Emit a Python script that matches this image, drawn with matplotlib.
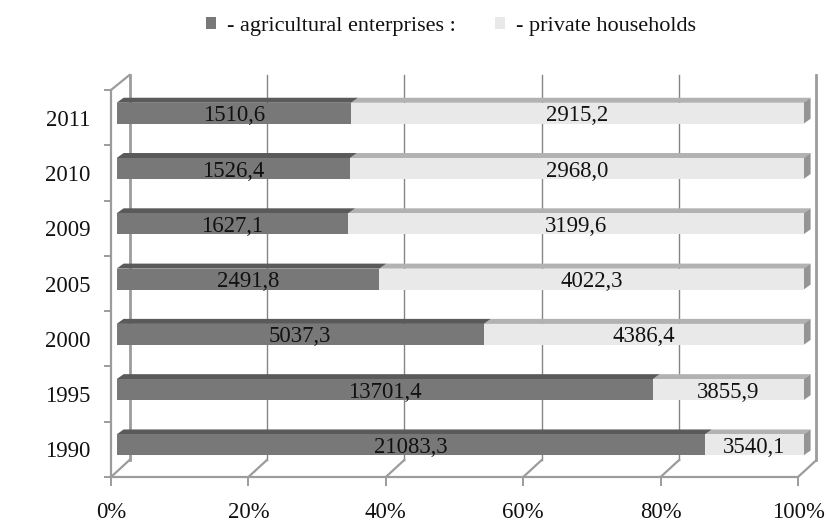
import matplotlib
matplotlib.use("Agg")
import matplotlib.pyplot as plt
from matplotlib.patches import Polygon, Patch
import numpy as np

years = ["1990", "1995", "2000", "2005", "2009", "2010", "2011"]
agricultural = [21083.3, 13701.4, 5037.3, 2491.8, 1627.1, 1526.4, 1510.6]
households = [3540.1, 3855.9, 4386.4, 4022.3, 3199.6, 2968.0, 2915.2]
series_names = ["- agricultural enterprises :", "- private households"]
pct_ticks = [0, 20, 40, 60, 80, 100]

FONT = "Liberation Serif"
W, H = 828, 522
fig = plt.figure(figsize=(W / 100, H / 100), dpi=100, facecolor="white")
# frame = front edge of the pseudo-3D floor and wall
L, R, B, T = 111, 798, 477, 90
ax = fig.add_axes([L / W, 1 - B / H, (R - L) / W, (B - T) / H])
ax.set_xlim(0, 100)
ax.set_ylim(-0.5, 6.5)
ax.patch.set_visible(False)

ux = (R - L) / 100          # pixels per x unit
uy = (B - T) / 7            # pixels per y unit
px = lambda p: p / ux
py = lambda p: p / uy

WALL = "#9c9c9c"
GRID = "#858585"
DARK, DARK_TOP = "#787878", "#5a5a5a"
LIGHT, LIGHT_TOP, LIGHT_SIDE = "#e9e9e9", "#b2b2b2", "#949494"

# back wall grid and floor diagonals
bx = px(18.5)
by0, by1 = py(17), py(15)
for t in pct_ticks:
    edge = t in (0, 100)
    col, lw = (WALL, 2.0) if edge else (GRID, 1.0)
    ax.plot([t + bx, t + bx], [-0.5 + by0, 6.5 + by1], color=col, lw=lw, clip_on=False, zorder=1)
    ax.plot([t, t + bx], [-0.5, -0.5 + by0], color=WALL, lw=1.6, clip_on=False, zorder=1)
ax.plot([0, bx], [6.5, 6.5 + by1], color=WALL, lw=1.6, clip_on=False, zorder=1)

# bars
values_a = np.array(agricultural)
values_h = np.array(households)
total = values_a + values_h
share_a = values_a / total * 100
share_h = values_h / total * 100
ypos = np.arange(len(years))
ox, oy = px(5.6), py(4.4)
dx, dy = px(7), py(5)
bar_h = 21 / uy

for y, a, h in zip(ypos, share_a, share_h):
    yc = y + oy
    top = yc + bar_h / 2
    ax.add_patch(Polygon([(ox, top), (ox + a, top), (ox + a + dx, top + dy), (ox + dx, top + dy)],
                         fc=DARK_TOP, ec="none", clip_on=False, zorder=3))
    ax.add_patch(Polygon([(ox + a, top), (ox + 100, top), (ox + 100 + dx, top + dy), (ox + a + dx, top + dy)],
                         fc=LIGHT_TOP, ec="none", clip_on=False, zorder=2.9))
    ax.add_patch(Polygon([(ox + 100, top), (ox + 100 + dx, top + dy),
                          (ox + 100 + dx, top + dy - bar_h), (ox + 100, top - bar_h)],
                         fc=LIGHT_SIDE, ec="none", clip_on=False, zorder=3))

ax.barh(ypos + oy, share_a, height=bar_h, left=ox, color=DARK, clip_on=False, zorder=3)
ax.barh(ypos + oy, share_h, height=bar_h, left=ox + share_a, color=LIGHT, clip_on=False, zorder=3)

fs = 16.4
for y, a, h, va, vh in zip(ypos, share_a, share_h, values_a, values_h):
    for cx, v in ((ox + a / 2, va), (ox + a + h / 2, vh)):
        ax.text(cx, y + oy, f"{v:.1f}".replace(".", ","), ha="center", va="center_baseline",
                family=FONT, fontsize=fs, color="#111111", zorder=5, clip_on=False)

# axes
for s in ("top", "right"):
    ax.spines[s].set_visible(False)
for s in ("left", "bottom"):
    ax.spines[s].set_color(WALL)
    ax.spines[s].set_linewidth(1.6)
ax.set_xticks(pct_ticks)
ax.set_xticklabels([f"{t}%" for t in pct_ticks], family=FONT, fontsize=fs, color="#111111")
ax.tick_params(axis="x", length=6.5, width=1.4, color=WALL, pad=11.5)
ax.set_yticks(ypos)
ax.set_yticklabels(years, family=FONT, fontsize=fs, color="#111111")
ax.tick_params(axis="y", which="major", length=0, pad=15)
ax.set_yticks(np.arange(-0.5, 7), minor=True)
ax.tick_params(axis="y", which="minor", length=5, width=1.4, color=WALL)

# legend
handles = [Patch(fc=DARK, ec="none", label=series_names[0]),
           Patch(fc=LIGHT, ec="none", label=series_names[1])]
fig.legend(handles=handles, loc="center", bbox_to_anchor=(451 / W, 1 - 26 / H), ncol=2, frameon=False,
           prop={"family": FONT, "size": 16}, handlelength=0.45, handleheight=0.45,
           handletextpad=0.5, columnspacing=1.8, labelcolor="#111111")

fig.savefig("out.png", dpi=100, facecolor="white")
